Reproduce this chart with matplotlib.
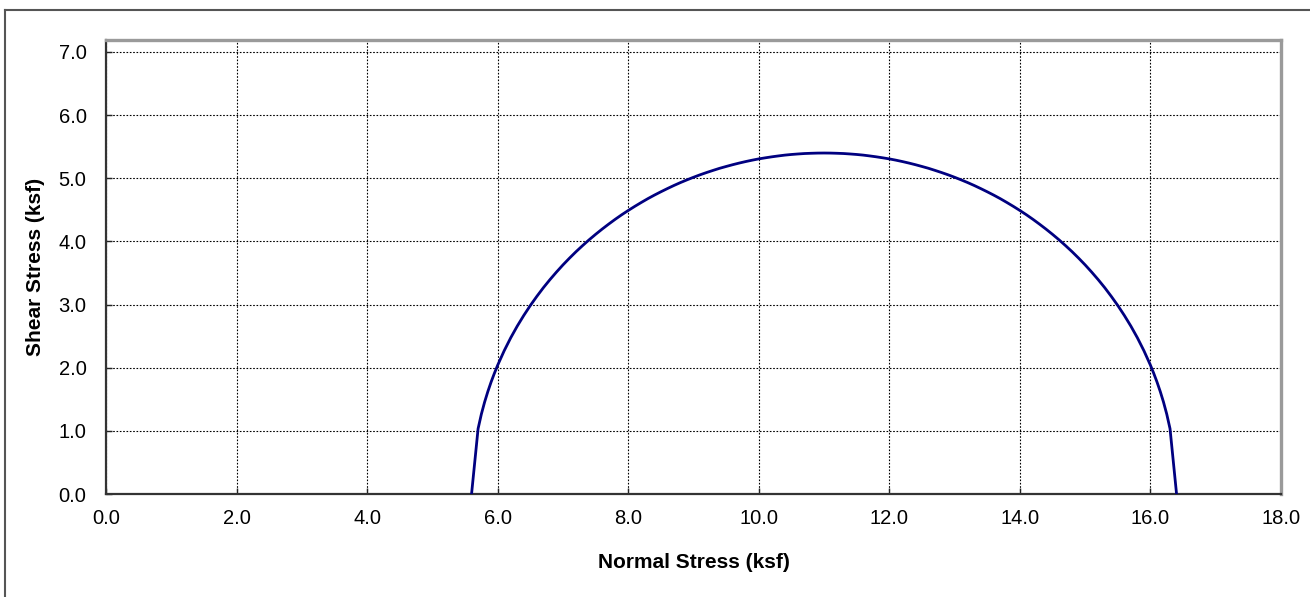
import matplotlib.pyplot as plt
from matplotlib.lines import Line2D

plt.rcParams['font.family'] = ['Liberation Sans', 'DejaVu Sans']

# Mohr circle points (normal stress, shear stress) in ksf
normal_stress = [
    5.6, 5.7, 5.75, 5.8, 5.85, 5.9, 5.95, 6.0, 6.1, 6.2, 6.3, 6.4, 6.5, 6.6,
    6.7, 6.8, 6.9, 7.0, 7.1, 7.2, 7.3, 7.4, 7.5, 7.6, 7.7, 7.8, 7.9, 8.0,
    8.1, 8.2, 8.3, 8.4, 8.5, 8.6, 8.7, 8.8, 8.9, 9.0, 9.1, 9.2, 9.3, 9.4,
    9.5, 9.6, 9.7, 9.8, 9.9, 10.0, 10.1, 10.2, 10.3, 10.4, 10.5, 10.6, 10.7,
    10.8, 10.9, 11.0, 11.1, 11.2, 11.3, 11.4, 11.5, 11.6, 11.7, 11.8, 11.9,
    12.0, 12.1, 12.2, 12.3, 12.4, 12.5, 12.6, 12.7, 12.8, 12.9, 13.0, 13.1,
    13.2, 13.3, 13.4, 13.5, 13.6, 13.7, 13.8, 13.9, 14.0, 14.1, 14.2, 14.3,
    14.4, 14.5, 14.6, 14.7, 14.8, 14.9, 15.0, 15.1, 15.2, 15.3, 15.4, 15.5,
    15.6, 15.7, 15.8, 15.9, 16.0, 16.05, 16.1, 16.15, 16.2, 16.25, 16.3, 16.4,
]
shear_stress = [
    0.000, 1.034, 1.264, 1.456, 1.624, 1.775, 1.912, 2.040, 2.269, 2.474,
    2.659, 2.828, 2.985, 3.130, 3.267, 3.394, 3.514, 3.628, 3.735, 3.837,
    3.933, 4.025, 4.112, 4.195, 4.274, 4.350, 4.422, 4.490, 4.555, 4.617,
    4.677, 4.733, 4.786, 4.837, 4.886, 4.932, 4.975, 5.016, 5.055, 5.091,
    5.125, 5.158, 5.187, 5.215, 5.241, 5.265, 5.287, 5.307, 5.324, 5.340,
    5.354, 5.367, 5.377, 5.385, 5.392, 5.396, 5.399, 5.400,
    5.399, 5.396, 5.392, 5.385, 5.377, 5.367, 5.354, 5.340, 5.324, 5.307,
    5.287, 5.265, 5.241, 5.215, 5.187, 5.158, 5.125, 5.091, 5.055, 5.016,
    4.975, 4.932, 4.886, 4.837, 4.786, 4.733, 4.677, 4.617, 4.555, 4.490,
    4.422, 4.350, 4.274, 4.195, 4.112, 4.025, 3.933, 3.837, 3.735, 3.628,
    3.514, 3.394, 3.267, 3.130, 2.985, 2.828, 2.659, 2.474, 2.269, 2.040,
    1.912, 1.775, 1.624, 1.456, 1.264, 1.034, 0.000,
]

x_ticks = [0, 2, 4, 6, 8, 10, 12, 14, 16, 18]
y_ticks = [0, 1, 2, 3, 4, 5, 6, 7]

fig = plt.figure(figsize=(13.1, 5.97), dpi=100)
ax = fig.add_axes([106 / 1310, 1 - 494 / 597, (1281 - 106) / 1310, (494 - 40) / 597])

ax.plot(normal_stress, shear_stress, color='#000080', lw=2.0, zorder=3)

ax.set_xlim(0, 18)
ax.set_ylim(0, 7.19)
ax.set_xticks(x_ticks)
ax.set_yticks(y_ticks)
ax.set_xticklabels([f'{v:.1f}' for v in x_ticks], fontsize=14.5)
ax.set_yticklabels([f'{v:.1f}' for v in y_ticks], fontsize=14.5)
ax.tick_params(direction='in', length=4, width=1, color='#222222')
ax.tick_params(axis='x', pad=11)
ax.tick_params(axis='y', pad=14)

ax.grid(True, color='black', linestyle=(0, (1.5, 1.5)), linewidth=0.8)
ax.set_axisbelow(True)

for side in ('left', 'bottom'):
    ax.spines[side].set_color('#333333')
    ax.spines[side].set_linewidth(1.6)
for side in ('top', 'right'):
    ax.spines[side].set_color('#9a9a9a')
    ax.spines[side].set_linewidth(2.4)

ax.set_xlabel('Normal Stress (ksf)', fontsize=15, fontweight='bold', labelpad=18)
ax.set_ylabel('Shear Stress (ksf)', fontsize=15, fontweight='bold', labelpad=10)

# outer chart border (only left and top visible)
fig.add_artist(Line2D([5 / 1310, 5 / 1310], [0, 1 - 10 / 597], transform=fig.transFigure,
                      color='#555555', lw=1.5))
fig.add_artist(Line2D([5 / 1310, 1], [1 - 10 / 597, 1 - 10 / 597], transform=fig.transFigure,
                      color='#555555', lw=1.5))

fig.savefig('out.png', dpi=100)
